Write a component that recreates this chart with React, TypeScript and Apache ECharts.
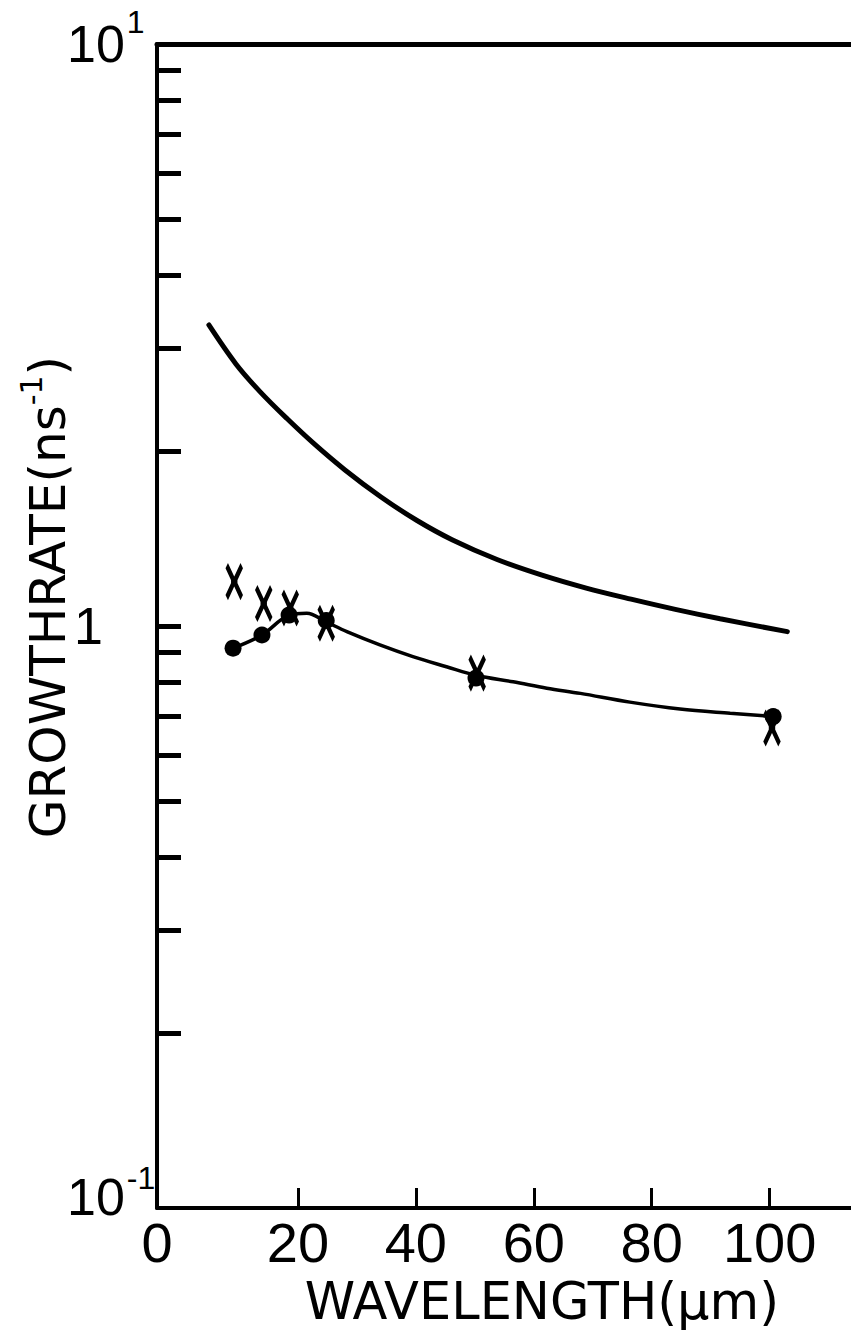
import React, { useEffect, useRef } from 'react';
import * as echarts from 'echarts';

// x axis range (hand-drawn figure: the "0" label sits at the origin of the axes)
const X_MIN = -3.9;
const X_MAX = 113.8;
const xTickValues = [20, 40, 60, 80, 100];
const xLabelValues = [X_MIN, 20, 40, 60, 80, 100];

// log-axis minor ticks (values between the decades)
const yTickValues = [0.2, 0.3, 0.4, 0.5, 0.6, 0.7, 0.8, 0.9, 1, 2, 3, 4, 5, 6, 7, 8, 9];

// upper (theory) curve
const upperLambda = [4.9, 9.48, 13.56, 18.14, 22.72, 27.98, 34.09, 40.2, 46.14, 53.77, 61.4, 68.9, 76.5, 84.0, 91.6, 103.0];
const upperRate = [3.29, 2.82, 2.528, 2.272, 2.057, 1.854, 1.666, 1.518, 1.407, 1.301, 1.223, 1.162, 1.112, 1.068, 1.029, 0.978];

// lower curve drawn through the dots
const lowerLambda = [9.0, 13.9, 18.5, 21.5, 24.8, 28.3, 33.9, 39.5, 45.2, 50.3, 56.5, 62.2, 67.9, 76.3, 84.8, 93.3, 100.6];
const lowerRate = [0.916, 0.965, 1.044, 1.052, 1.016, 0.978, 0.928, 0.886, 0.851, 0.822, 0.802, 0.782, 0.766, 0.74, 0.72, 0.708, 0.699];

// filled dots
const dotLambda = [9.0, 13.9, 18.5, 24.8, 50.2, 100.6];
const dotRate = [0.916, 0.965, 1.044, 1.022, 0.814, 0.699];

// X markers
const crossLambda = [9.2, 14.2, 18.7, 24.8, 50.4, 100.4];
const crossRate = [1.192, 1.093, 1.074, 1.011, 0.83, 0.668];

const pair = (xs: number[], ys: number[]) => xs.map((x, i) => [x, ys[i]]);

const CROSS_PATH = 'path://M0,0 L6,13 L6,19 L0,32 M15,0 L9,13 L9,19 L15,32';

export default function App() {
  const ref = useRef<HTMLDivElement>(null);

  useEffect(() => {
    if (!ref.current) return;
    const chart = echarts.init(ref.current, null, { renderer: 'svg' });
    const black = '#000';
    const tickFont = 'Liberation Sans';
    const nameFont = 'DejaVu Sans';

    const option: any = {
      animation: false,
      backgroundColor: '#fff',
      grid: { left: 157, right: 0, top: 44, bottom: 126, outerBoundsMode: 'none' },
      xAxis: [
        {
          type: 'value',
          min: X_MIN,
          max: X_MAX,
          position: 'bottom',
          axisLine: { onZero: false, lineStyle: { color: black, width: 4 } },
          axisTick: { inside: true, length: 20, customValues: xTickValues, lineStyle: { color: black, width: 3 } },
          axisLabel: {
            customValues: xLabelValues,
            formatter: (v: number) => (v === X_MIN ? '0' : String(v)),
            margin: 6,
            color: black,
            fontFamily: tickFont,
            fontSize: 56,
          },
          splitLine: { show: false },
          name: 'WAVELENGTH(μm)',
          nameLocation: 'middle',
          nameGap: 68,
          nameMoveOverlap: false,
          nameTextStyle: { color: black, fontFamily: nameFont, fontSize: 51, padding: [0, 0, 0, 76] },
        },
        {
          type: 'value',
          min: X_MIN,
          max: X_MAX,
          position: 'top',
          axisLine: { onZero: false, lineStyle: { color: black, width: 5 } },
          axisTick: { show: false },
          axisLabel: { show: false },
          splitLine: { show: false },
        },
      ],
      yAxis: [
        {
          type: 'log',
          logBase: 10,
          min: 0.1,
          max: 10,
          position: 'left',
          axisLine: { onZero: false, lineStyle: { color: black, width: 4 } },
          axisTick: { show: false },
          splitLine: { show: false },
          axisLabel: {
            align: 'left',
            margin: 90,
            color: black,
            formatter: (v: number) => (v > 5 ? '{b|10}{s|1}' : v < 0.5 ? '{bl|10}{sl|-1}' : '{o|1}'),
            rich: {
              b: { fontSize: 52, fontFamily: tickFont, color: black, lineHeight: 52 },
              o: { fontSize: 52, fontFamily: tickFont, color: black, lineHeight: 52, padding: [0, 0, 0, 7] },
              s: { fontSize: 32, fontFamily: tickFont, color: black, lineHeight: 32, padding: [0, 0, 44, 2] },
              bl: { fontSize: 52, fontFamily: tickFont, color: black, lineHeight: 52, padding: [0, 0, 22, 0] },
              sl: { fontSize: 32, fontFamily: tickFont, color: black, lineHeight: 32, padding: [0, 0, 60, 2] },
            },
          },
          name: '{a|GROWTHRATE(ns}{s|-1}{a|)}',
          nameLocation: 'middle',
          nameRotate: 90,
          nameGap: 84,
          nameMoveOverlap: false,
          nameTextStyle: {
            padding: [0, 0, 0, 58],
            rich: {
              a: { fontSize: 50, fontFamily: nameFont, color: black, lineHeight: 50 },
              s: { fontSize: 30, fontFamily: nameFont, color: black, lineHeight: 30, padding: [0, 0, 34, 0] },
            },
          },
        },
        {
          type: 'value',
          min: -1,
          max: 1,
          position: 'left',
          axisLine: { show: false, onZero: false },
          axisTick: {
            inside: true,
            length: 24,
            customValues: yTickValues.map((v) => Math.log10(v)),
            lineStyle: { color: black, width: 5 },
          },
          axisLabel: { show: false },
          splitLine: { show: false },
        },
      ],
      series: [
        {
          type: 'line',
          xAxisIndex: 0,
          yAxisIndex: 0,
          data: pair(upperLambda, upperRate),
          smooth: 0.35,
          showSymbol: false,
          lineStyle: { color: black, width: 5, cap: 'round' },
          z: 3,
        },
        {
          type: 'line',
          xAxisIndex: 0,
          yAxisIndex: 0,
          data: pair(lowerLambda, lowerRate),
          smooth: 0.35,
          showSymbol: false,
          lineStyle: { color: black, width: 3.5, cap: 'round' },
          z: 3,
        },
        {
          type: 'scatter',
          xAxisIndex: 0,
          yAxisIndex: 0,
          data: pair(dotLambda, dotRate),
          symbol: 'circle',
          symbolSize: 17,
          itemStyle: { color: black, opacity: 1 },
          z: 4,
        },
        {
          type: 'scatter',
          xAxisIndex: 0,
          yAxisIndex: 0,
          data: pair(crossLambda, crossRate),
          symbol: CROSS_PATH,
          symbolSize: [15, 32],
          itemStyle: { color: 'transparent', borderColor: black, borderWidth: 5, opacity: 1 },
          z: 5,
        },
      ],
    };

    chart.setOption(option);
    return () => chart.dispose();
  }, []);

  return (
    <div
      ref={ref}
      style={{ position: 'fixed', left: 0, top: 0, width: 851, height: 1334, background: '#fff' }}
    />
  );
}
